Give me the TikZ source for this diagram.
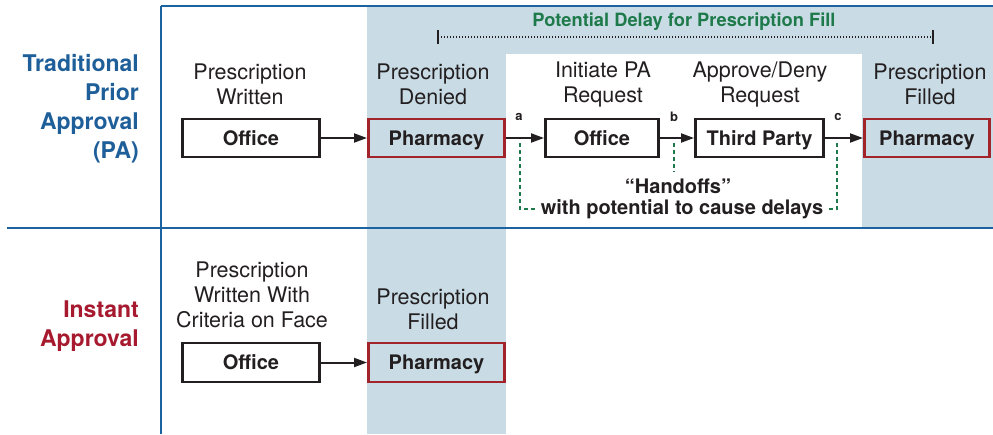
\documentclass[tikz,border=0pt]{standalone}
\usepackage{fontspec}
\setmainfont{TeX Gyre Heros}
\usetikzlibrary{arrows.meta}
\definecolor{rule}{HTML}{1A62A0}
\definecolor{bgshade}{HTML}{C9DCE5}
\definecolor{boxred}{HTML}{A3232A}
\definecolor{tgreen}{HTML}{1E7A4A}
\definecolor{tblue}{HTML}{1F5F99}
\definecolor{tred}{HTML}{A6192E}
\definecolor{ink}{HTML}{231F20}
\tikzset{
  obox/.style={draw=ink,line width=2.6pt,fill=white,minimum height=38pt,inner sep=0pt,
    text height=18.4pt,text depth=4pt,
    font=\fontsize{20}{24}\selectfont\bfseries,text=ink},
  pbox/.style={draw=boxred,line width=2.6pt,fill=bgshade,minimum height=38pt,inner sep=0pt,
    text height=18.4pt,text depth=4pt,
    font=\fontsize{20}{24}\selectfont\bfseries,text=ink},
  lbl/.style={align=center,font=\fontsize{21.5}{25}\selectfont,text=ink,inner sep=0pt},
  rowlbl/.style={align=right,font=\fontsize{23}{29}\selectfont\bfseries,anchor=east,inner sep=0pt},
  letter/.style={font=\fontsize{13}{15}\selectfont\bfseries,text=ink,inner sep=0pt},
  arr/.style={line width=2pt,draw=ink,-{Triangle[length=13pt,width=9pt]}},
  handoff/.style={draw=tgreen,line width=1.6pt,dash pattern=on 4pt off 3pt},
  hand/.style={font=\fontsize{20}{24}\selectfont\bfseries,text=ink,inner sep=0pt},
  bluerule/.style={draw=rule,line width=2.6pt}
}
\begin{document}
\begin{tikzpicture}[x=1pt,y=-1pt]
\useasboundingbox (0,0) rectangle (993,434);
% shading
\fill[bgshade] (367,6) rectangle (993,228);
\fill[bgshade] (367,228) rectangle (506,434);
\fill[white] (506,54) rectangle (862,228);
% rules
\draw[bluerule] (161,6) -- (993,6);
\draw[bluerule] (161,6) -- (161,434);
\draw[bluerule] (7,228) -- (993,228);
% title and dotted span
\node[font=\fontsize{18.3}{22}\selectfont\bfseries,text=tgreen,inner sep=0pt] (title) at (684,22) {Potential Delay for Prescription Fill};
\coordinate (sL) at (438,37);
\coordinate (sR) at (933,37);
\draw[draw=ink,line width=1.8pt,dash pattern=on 1.4pt off 1.6pt] (sL) -- (sR);
\draw[draw=ink,line width=2.4pt] ([yshift=-7pt]sL) -- ([yshift=7pt]sL);
\draw[draw=ink,line width=2.4pt] ([yshift=-7pt]sR) -- ([yshift=7pt]sR);
% row labels
\node[rowlbl,text=tblue] (rl1) at (139,108.5) {Traditional\\Prior\\Approval\\(PA)};
\node[rowlbl,text=tred] (rl2) at (139,326) {Instant\\Approval};
% row 1 boxes
\node[obox,minimum width=137.4pt] (o1) at (251,138) {Office};
\node[pbox,minimum width=136.4pt] (p1) at (436.5,138) {Pharmacy};
\node[obox,minimum width=113.4pt] (o2) at (602,138) {Office};
\node[obox,minimum width=128.4pt] (tp) at (759.5,138) {Third Party};
\node[pbox,minimum width=125.4pt] (p2) at (927,138) {Pharmacy};
% row 1 labels
\node[lbl] (l1) at (250,84.5) {Prescription\\Written};
\node[lbl] (l2) at (433,84.5) {Prescription\\Denied};
\node[lbl] (l3) at (603,84.5) {Initiate PA\\Request};
\node[lbl] (l4) at (760,84.5) {Approve/Deny\\Request};
\node[lbl] (l5) at (930,84.5) {Prescription\\Filled};
% row 1 arrows
\draw[arr] (o1) -- (p1);
\draw[arr] (p1) -- (o2);
\draw[arr] (o2) -- (tp);
\draw[arr] (tp) -- (p2);
\node[letter] (la) at (519,117) {a};
\node[letter] (lb) at (674,117) {b};
\node[letter] (lc) at (838,117) {c};
% handoffs
\node[hand] (h1) at (678,186) {“Handoffs”};
\node[hand] (h2) at (682,209) {with potential to cause delays};
\coordinate (da) at (520,143);
\coordinate (db) at (674,143);
\coordinate (dc) at (837,143);
\draw[handoff] (da) |- ([xshift=-4pt]h2.west);
\draw[handoff] (db) -- (674,172);
\draw[handoff] (dc) |- ([xshift=4pt]h2.east);
% row 2
\node[obox,minimum width=137.4pt,minimum height=39pt] (o3) at (251,362.5) {Office};
\node[pbox,minimum width=136.4pt,minimum height=39pt] (p3) at (436.5,362.5) {Pharmacy};
\node[lbl] (l6) at (252,295) {Prescription\\Written With\\Criteria on Face};
\node[lbl] (l7) at (433,309.5) {Prescription\\Filled};
\draw[arr] (o3) -- (p3);
\end{tikzpicture}
\end{document}
